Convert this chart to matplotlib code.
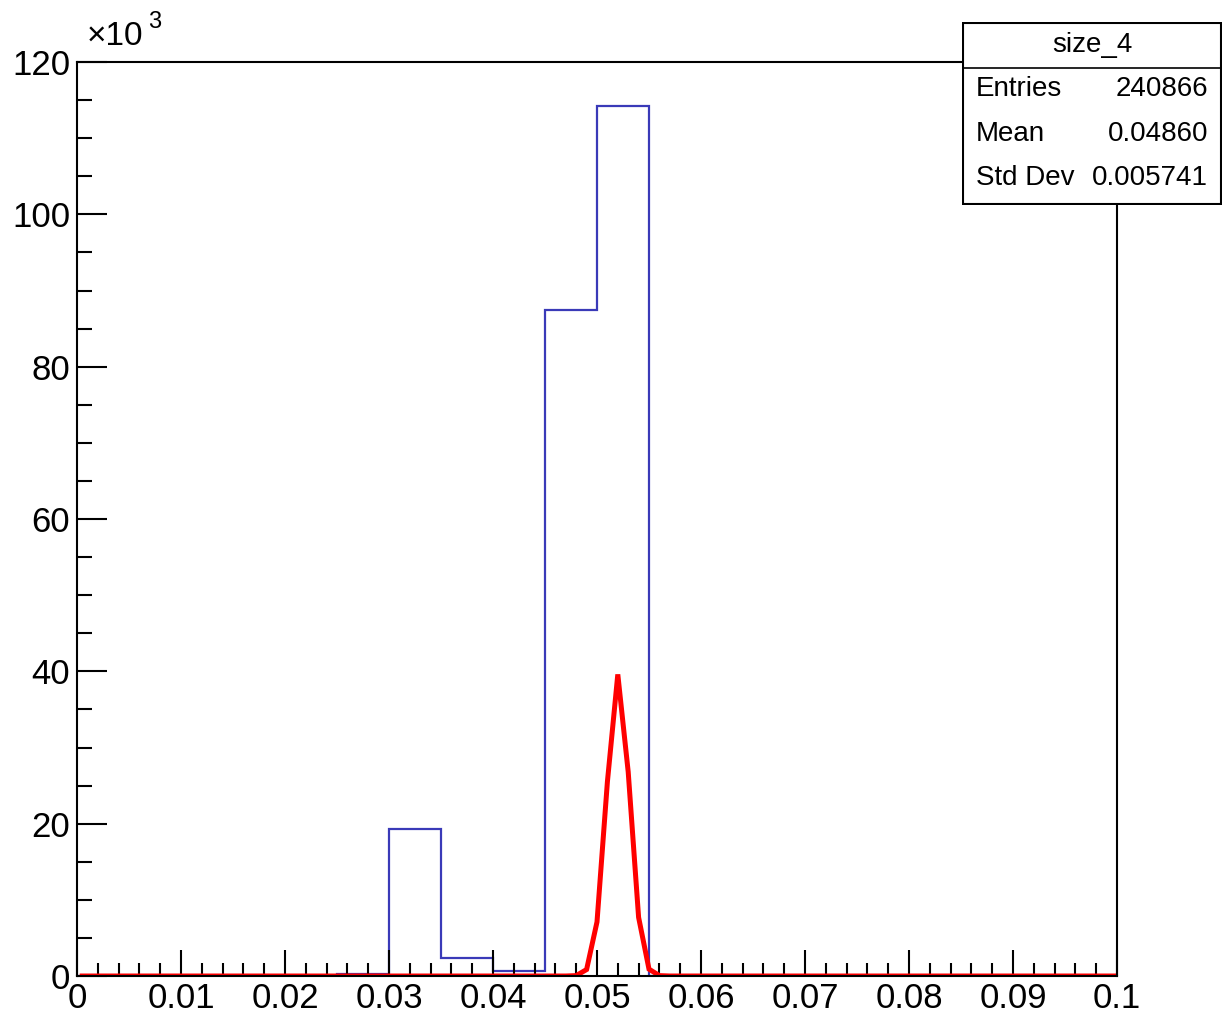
import matplotlib
matplotlib.use("Agg")
import matplotlib.pyplot as plt
from matplotlib.ticker import MultipleLocator, FixedLocator, FixedFormatter
from matplotlib.patches import Rectangle

plt.rcParams['font.family'] = ['Liberation Sans', 'DejaVu Sans']

# ---- data ----
bin_edges = [i * 0.005 for i in range(21)]
blue_counts = [0, 0, 0, 0, 0, 300, 19300, 2350, 600, 87400,
               114200, 0, 0, 0, 0, 0, 0, 0, 0, 0]
red_x = [0.0005, 0.047, 0.048, 0.049, 0.050, 0.051, 0.052, 0.053,
         0.054, 0.055, 0.056, 0.057, 0.1]
red_y = [0, 0, 50, 850, 7100, 25500, 39600, 26800, 7700, 900, 50, 0, 0]
y_ticks = [0, 20000, 40000, 60000, 80000, 100000, 120000]
y_labels = ["0", "20", "40", "60", "80", "100", "120"]
x_ticks = [0, 0.01, 0.02, 0.03, 0.04, 0.05, 0.06, 0.07, 0.08, 0.09, 0.1]
x_labels = ["0", "0.01", "0.02", "0.03", "0.04", "0.05", "0.06", "0.07", "0.08", "0.09", "0.1"]
stat_title = "size_4"
stat_names = ["Entries", "Mean", "Std Dev"]
stat_values = ["240866", "0.04860", "0.005741"]

W, H = 1227, 1023
fig = plt.figure(figsize=(W / 100, H / 100), dpi=100)
ax = fig.add_axes([77 / W, 1 - 976 / H, (1117 - 77) / W, (976 - 62) / H])

ax.stairs(blue_counts, bin_edges, color='#3a3ab8', linewidth=1.6, baseline=0)
ax.plot(red_x, red_y, color='#ff0000', linewidth=3.6, solid_joinstyle='miter')

ax.set_xlim(0, 0.1)
ax.set_ylim(0, 120000)
ax.xaxis.set_major_locator(FixedLocator(x_ticks))
ax.xaxis.set_major_formatter(FixedFormatter(x_labels))
ax.xaxis.set_minor_locator(MultipleLocator(0.002))
ax.yaxis.set_major_locator(FixedLocator(y_ticks))
ax.yaxis.set_major_formatter(FixedFormatter(y_labels))
ax.yaxis.set_minor_locator(MultipleLocator(5000))

ax.tick_params(axis='both', which='both', direction='in', top=False, right=False,
               width=1.5, colors='black', labelsize=25)
ax.tick_params(axis='y', which='major', length=21.5, pad=5)
ax.tick_params(axis='y', which='minor', length=10.8)
ax.tick_params(axis='x', which='major', length=18.7, pad=4)
ax.tick_params(axis='x', which='minor', length=9.4)
for s in ax.spines.values():
    s.set_linewidth(1.5)

fig.text(87 / W, 1 - 45 / H, "×10", fontsize=24, ha='left', va='baseline')
fig.text(148 / W, 1 - 28 / H, "3", fontsize=17, ha='left', va='baseline')

# stats box
bx0, by0, bx1, by1 = 962, 22, 1222, 205
sax = fig.add_axes([bx0 / W, 1 - by1 / H, (bx1 - bx0) / W, (by1 - by0) / H])
sax.set_xlim(bx0, bx1)
sax.set_ylim(by1, by0)
sax.axis('off')
sax.add_patch(Rectangle((bx0 + 1, by0 + 1), bx1 - bx0 - 2, by1 - by0 - 2,
                        facecolor='white', edgecolor='black', linewidth=1.5))
sax.plot([bx0, bx1], [68, 68], color='black', linewidth=1.2)
sax.text((bx0 + bx1) / 2, 45, stat_title, fontsize=20, ha='center', va='center')
row_y = [89, 134, 178]
for name, val, yy in zip(stat_names, stat_values, row_y):
    sax.text(976, yy, name, fontsize=20, ha='left', va='center')
    sax.text(1208, yy, val, fontsize=20, ha='right', va='center')

fig.savefig("out.png", dpi=100)
